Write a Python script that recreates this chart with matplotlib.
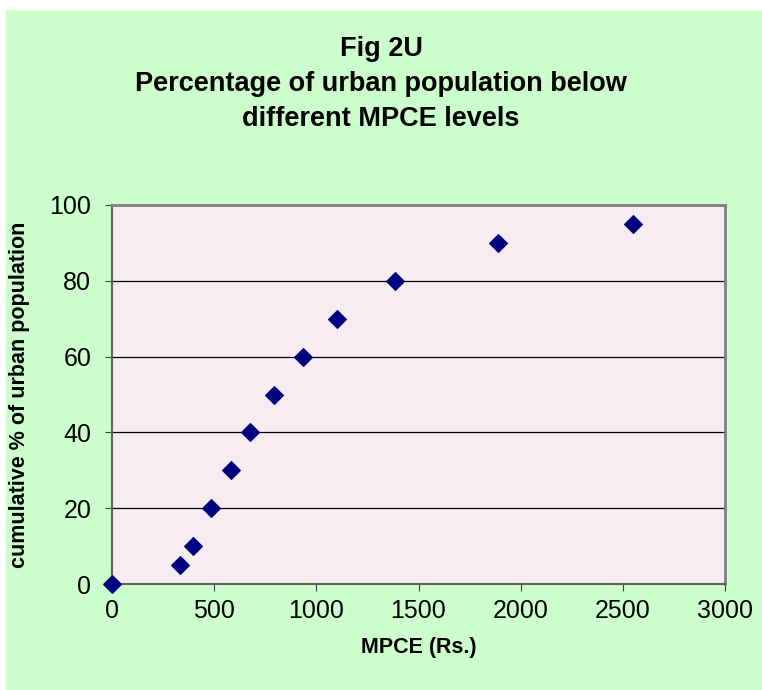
import matplotlib
matplotlib.use("Agg")
import matplotlib.pyplot as plt
from matplotlib.patches import Rectangle

plt.rcParams["font.family"] = ["Liberation Sans", "DejaVu Sans"]

# MPCE (Rs.) against cumulative % of urban population
MPCE = [0, 334, 395, 486, 580, 677, 793, 933, 1102, 1385, 1887, 2549]
CUM_PCT = [0, 5, 10, 20, 30, 40, 50, 60, 70, 80, 90, 95]
X_TICKS = [0, 500, 1000, 1500, 2000, 2500, 3000]
Y_TICKS = [0, 20, 40, 60, 80, 100]

GREEN_BG, PLOT_BG, NAVY = "#CCFFCC", "#F6ECF1", "#000080"

fig = plt.figure(figsize=(7.62, 6.90), dpi=100, facecolor="white")
fig.patches.append(Rectangle((6 / 762, 0), 1 - 6 / 762, 1 - 10 / 690,
                             transform=fig.transFigure, facecolor=GREEN_BG,
                             edgecolor="none", zorder=-10))

ax = fig.add_axes([112 / 762, 106 / 690, 613 / 762, 379 / 690])
ax.set_facecolor(PLOT_BG)
ax.scatter(MPCE, CUM_PCT, marker="D", s=80, color=NAVY, zorder=3, clip_on=False)

ax.set_xlim(0, 3000)
ax.set_ylim(0, 100)
ax.set_xticks(X_TICKS)
ax.set_yticks(Y_TICKS)
ax.tick_params(axis="both", labelsize=18, length=5, color="#404040")
ax.tick_params(axis="x", pad=6)
ax.tick_params(axis="y", pad=10)
ax.yaxis.grid(True, color="black", linewidth=0.9)
ax.set_axisbelow(True)
for side in ("top", "right"):
    ax.spines[side].set_color("#808080")
    ax.spines[side].set_linewidth(2)
for side in ("left", "bottom"):
    ax.spines[side].set_color("#606060")
    ax.spines[side].set_linewidth(1.5)

ax.set_xlabel("MPCE (Rs.)", fontsize=15.5, fontweight="bold", labelpad=10)
ax.set_ylabel("cumulative % of urban population", fontsize=15.5,
              fontweight="bold", labelpad=14)

fig.text(381 / 762, 1 - 84 / 690,
         "Fig 2U\nPercentage of urban population below\ndifferent MPCE levels",
         ha="center", va="center", fontsize=19.5, fontweight="bold",
         linespacing=1.46)

fig.savefig("out.png", dpi=100, facecolor=fig.get_facecolor())
